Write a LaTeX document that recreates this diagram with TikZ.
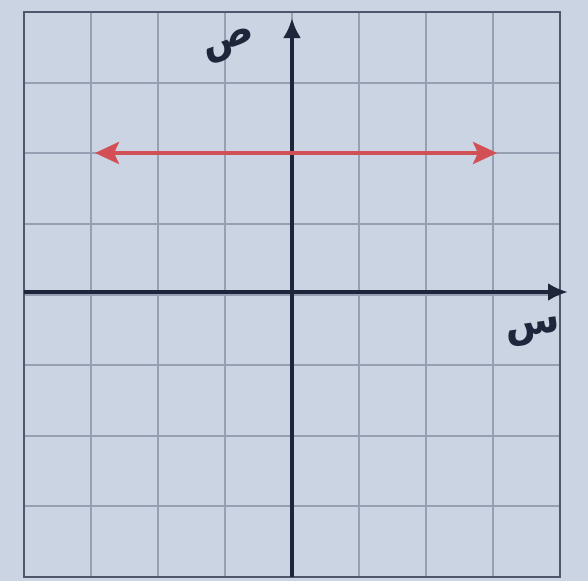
\documentclass[tikz,border=0pt]{standalone}
\usepackage{fontspec}
\newfontfamily\arabicfont[Script=Arabic]{DejaVu Sans}
\TeXXeTstate=1
\usetikzlibrary{arrows.meta}
\definecolor{paper}{RGB}{203,212,226}
\definecolor{gridc}{RGB}{150,160,178}
\definecolor{axisc}{RGB}{30,38,60}
\definecolor{redc}{RGB}{210,80,85}
\tikzset{
  gridline/.style={draw=gridc, line width=2.2pt},
  axisline/.style={draw=axisc, line width=4pt, -{Latex[length=20pt,width=18pt]}},
  redline/.style={draw=redc, line width=4pt, {Stealth[length=24pt,width=22pt,inset=5pt]}-{Stealth[length=24pt,width=22pt,inset=5pt]}},
  lbl/.style={text=axisc, font=\arabicfont\bfseries\fontsize{40}{44}\selectfont, inner sep=0pt}
}
\begin{document}
\begin{tikzpicture}[x=1pt,y=-1pt]
\fill[paper] (0,0) rectangle (588,581);
\useasboundingbox (0,0) rectangle (588,581);
% grid
\foreach \i in {1,...,7} {
  \draw[gridline] ({24+67*\i},12) -- ({24+67*\i},577);
  \draw[gridline] (24,{12+70.6*\i}) -- (560,{12+70.6*\i});
}
\draw[gridline, draw=axisc!60!gridc, line width=2.8pt] (24,12) rectangle (560,577);
% axes
\coordinate (xs) at (24,292);
\coordinate (xe) at (568,292);
\coordinate (ys) at (292,577);
\coordinate (ye) at (292,18);
\draw[axisline] (xs) -- (xe);
\draw[axisline] (ys) -- (ye);
% red line
\coordinate (ra) at (95,153);
\coordinate (rb) at (497,153);
\draw[redline] (ra) -- (rb);
% labels
\node[lbl, rotate=20] (ylab) at (230,46) {\beginR ص\endR};
\node[lbl, rotate=8] (xlab) at (533,332) {\beginR س\endR};
\end{tikzpicture}
\end{document}
